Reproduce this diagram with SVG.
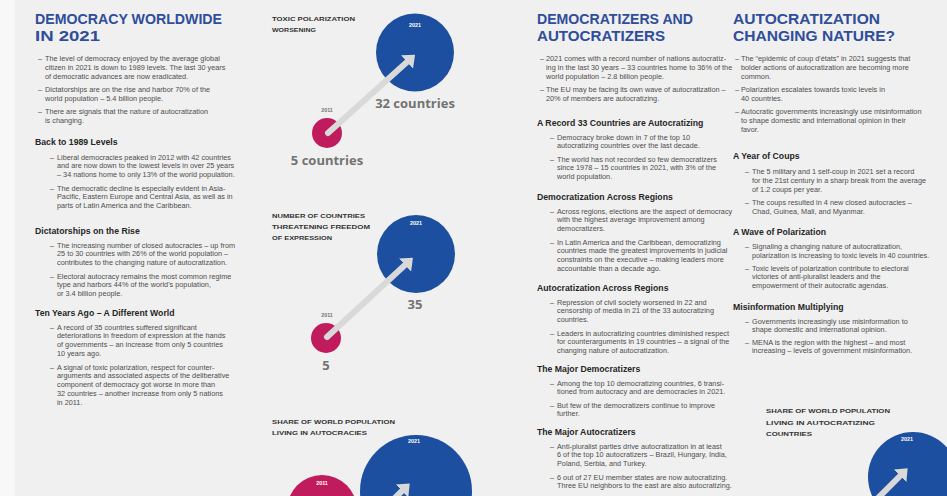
<svg xmlns="http://www.w3.org/2000/svg" width="947" height="496" viewBox="0 0 947 496">
<defs>
<style>
text{font-family:"Liberation Sans","Open Sans",sans-serif}
.title{font-size:15px;font-weight:bold;fill:#2f4d9b}
.b{font-size:7.3px;fill:#4e4e4e}
.h{font-size:8.7px;font-weight:bold;fill:#262626}
.cl{font-size:6px;font-weight:bold;fill:#333}
.yw{font-size:5.4px;font-weight:bold;fill:#fff}
.yg{font-size:5.4px;font-weight:bold;fill:#777}
.big{font-family:"Open Sans","Liberation Sans",sans-serif;font-size:13px;font-weight:bold;fill:#737373}
.blue{fill:#1c4f9f}
.mag{fill:#c01b5c}
.arr{stroke:#d9d9d9;stroke-width:6;fill:none;stroke-linecap:round}
</style>
<marker id="ah" viewBox="0 0 10 10" refX="0" refY="5" markerWidth="3" markerHeight="3" orient="auto" markerUnits="strokeWidth">
<path d="M0,0 L6,5 L0,10 z" fill="#d9d9d9"/>
</marker>
</defs>
<rect width="947" height="496" fill="#f0f0f0"/>
<rect width="15" height="496" fill="#f8f8f8"/>

<g id="democracy-worldwide">
<text class="title" x="35" y="24" textLength="187" lengthAdjust="spacingAndGlyphs">DEMOCRACY WORLDWIDE</text>
<text class="title" x="35" y="41" textLength="65" lengthAdjust="spacingAndGlyphs">IN 2021</text>
<text class="b" x="38" y="61">–</text>
<text class="b" x="45" y="61">The level of democracy enjoyed by the average global</text>
<text class="b" x="45" y="69.8">citizen in 2021 is down to 1989 levels. The last 30 years</text>
<text class="b" x="45" y="78.6">of democratic advances are now eradicated.</text>
<text class="b" x="38" y="92">–</text>
<text class="b" x="45" y="92">Dictatorships are on the rise and harbor 70% of the</text>
<text class="b" x="45" y="100.8">world population – 5.4 billion people.</text>
<text class="b" x="38" y="114">–</text>
<text class="b" x="45" y="114">There are signals that the nature of autocratization</text>
<text class="b" x="45" y="122.8">is changing.</text>
<text class="h" x="35" y="145">Back to 1989 Levels</text>
<text class="b" x="50" y="159.5">–</text>
<text class="b" x="57" y="159.5">Liberal democracies peaked in 2012 with 42 countries</text>
<text class="b" x="57" y="168.3">and are now down to the lowest levels in over 25 years</text>
<text class="b" x="57" y="177.1">– 34 nations home to only 13% of the world population.</text>
<text class="b" x="50" y="190.5">–</text>
<text class="b" x="57" y="190.5">The democratic decline is especially evident in Asia-</text>
<text class="b" x="57" y="199.3">Pacific, Eastern Europe and Central Asia, as well as in</text>
<text class="b" x="57" y="208.1">parts of Latin America and the Caribbean.</text>
<text class="h" x="35" y="234">Dictatorships on the Rise</text>
<text class="b" x="50" y="247.5">–</text>
<text class="b" x="57" y="247.5">The increasing number of closed autocracies – up from</text>
<text class="b" x="57" y="256.3">25 to 30 countries with 26% of the world population –</text>
<text class="b" x="57" y="265.1">contributes to the changing nature of autocratization.</text>
<text class="b" x="50" y="278.5">–</text>
<text class="b" x="57" y="278.5">Electoral autocracy remains the most common regime</text>
<text class="b" x="57" y="287.3">type and harbors 44% of the world's population,</text>
<text class="b" x="57" y="296.1">or 3.4 billion people.</text>
<text class="h" x="35" y="316">Ten Years Ago – A Different World</text>
<text class="b" x="50" y="329.5">–</text>
<text class="b" x="57" y="329.5">A record of 35 countries suffered significant</text>
<text class="b" x="57" y="338.3">deteriorations in freedom of expression at the hands</text>
<text class="b" x="57" y="347.1">of governments – an increase from only 5 countries</text>
<text class="b" x="57" y="355.9">10 years ago.</text>
<text class="b" x="50" y="369.5">–</text>
<text class="b" x="57" y="369.5">A signal of toxic polarization, respect for counter-</text>
<text class="b" x="57" y="378.3">arguments and associated aspects of the deliberative</text>
<text class="b" x="57" y="387.1">component of democracy got worse in more than</text>
<text class="b" x="57" y="395.9">32 countries – another increase from only 5 nations</text>
<text class="b" x="57" y="404.7">in 2011.</text>
</g>

<g id="chart-polarization">
<text class="cl" x="272" y="21" textLength="83" lengthAdjust="spacingAndGlyphs">TOXIC POLARIZATION</text>
<text class="cl" x="272" y="32" textLength="44" lengthAdjust="spacingAndGlyphs">WORSENING</text>
<circle class="blue" cx="415" cy="52.5" r="39"/>
<text class="yw" x="415" y="27" text-anchor="middle">2021</text>
<circle class="mag" cx="327" cy="133" r="15"/>
<text class="yg" x="327" y="112" text-anchor="middle">2011</text>
<text class="big" x="415" y="108" text-anchor="middle">32 countries</text>
<text class="big" x="327" y="165" text-anchor="middle">5 countries</text>
</g>

<g id="chart-expression">
<text class="cl" x="272" y="218" textLength="93" lengthAdjust="spacingAndGlyphs">NUMBER OF COUNTRIES</text>
<text class="cl" x="272" y="229" textLength="98" lengthAdjust="spacingAndGlyphs">THREATENING FREEDOM</text>
<text class="cl" x="272" y="240" textLength="60" lengthAdjust="spacingAndGlyphs">OF EXPRESSION</text>
<circle class="blue" cx="416" cy="254" r="39"/>
<text class="yw" x="416" y="225" text-anchor="middle">2021</text>
<circle class="mag" cx="326" cy="338" r="15"/>
<text class="yg" x="327" y="317" text-anchor="middle">2011</text>
<text class="big" x="415" y="309" text-anchor="middle">35</text>
<text class="big" x="326" y="370" text-anchor="middle">5</text>
</g>

<g id="chart-population">
<text class="cl" x="272" y="424" textLength="123" lengthAdjust="spacingAndGlyphs">SHARE OF WORLD POPULATION</text>
<text class="cl" x="272" y="435" textLength="95" lengthAdjust="spacingAndGlyphs">LIVING IN AUTOCRACIES</text>
<circle class="blue" cx="416" cy="491" r="56"/>
<text class="yw" x="414" y="443" text-anchor="middle">2021</text>
<circle class="mag" cx="322" cy="510" r="35"/>
<text class="yw" x="322" y="485" text-anchor="middle">2011</text>
</g>

<g id="democratizers-autocratizers">
<text class="title" x="537" y="24" textLength="156" lengthAdjust="spacingAndGlyphs">DEMOCRATIZERS AND</text>
<text class="title" x="537" y="41" textLength="128" lengthAdjust="spacingAndGlyphs">AUTOCRATIZERS</text>
<text class="b" x="540" y="61">–</text>
<text class="b" x="546" y="61">2021 comes with a record number of nations autocratiz-</text>
<text class="b" x="546" y="69.8">ing in the last 30 years – 33 countries home to 36% of the</text>
<text class="b" x="546" y="78.6">world population – 2.8 billion people.</text>
<text class="b" x="540" y="92">–</text>
<text class="b" x="546" y="92">The EU may be facing its own wave of autocratization –</text>
<text class="b" x="546" y="100.8">20% of members are autocratizing.</text>
<text class="h" x="537" y="126">A Record 33 Countries are Autocratizing</text>
<text class="b" x="550" y="139.5">–</text>
<text class="b" x="557" y="139.5">Democracy broke down in 7 of the top 10</text>
<text class="b" x="557" y="148.3">autocratizing countries over the last decade.</text>
<text class="b" x="550" y="161.5">–</text>
<text class="b" x="557" y="161.5">The world has not recorded so few democratizers</text>
<text class="b" x="557" y="170.3">since 1978 – 15 countries in 2021, with 3% of the</text>
<text class="b" x="557" y="179.1">world population.</text>
<text class="h" x="537" y="200">Democratization Across Regions</text>
<text class="b" x="550" y="213.5">–</text>
<text class="b" x="557" y="213.5">Across regions, elections are the aspect of democracy</text>
<text class="b" x="557" y="222.3">with the highest average improvement among</text>
<text class="b" x="557" y="231.1">democratizers.</text>
<text class="b" x="550" y="244.5">–</text>
<text class="b" x="557" y="244.5">In Latin America and the Caribbean, democratizing</text>
<text class="b" x="557" y="253.3">countries made the greatest improvements in judicial</text>
<text class="b" x="557" y="262.1">constraints on the executive – making leaders more</text>
<text class="b" x="557" y="270.9">accountable than a decade ago.</text>
<text class="h" x="537" y="291">Autocratization Across Regions</text>
<text class="b" x="550" y="304.5">–</text>
<text class="b" x="557" y="304.5">Repression of civil society worsened in 22 and</text>
<text class="b" x="557" y="313.3">censorship of media in 21 of the 33 autocratizing</text>
<text class="b" x="557" y="322.1">countries.</text>
<text class="b" x="550" y="335.5">–</text>
<text class="b" x="557" y="335.5">Leaders in autocratizing countries diminished respect</text>
<text class="b" x="557" y="344.3">for counterarguments in 19 countries – a signal of the</text>
<text class="b" x="557" y="353.1">changing nature of autocratization.</text>
<text class="h" x="537" y="372">The Major Democratizers</text>
<text class="b" x="550" y="385.5">–</text>
<text class="b" x="557" y="385.5">Among the top 10 democratizing countries, 6 transi-</text>
<text class="b" x="557" y="394.3">tioned from autocracy and are democracies in 2021.</text>
<text class="b" x="550" y="407.5">–</text>
<text class="b" x="557" y="407.5">But few of the democratizers continue to improve</text>
<text class="b" x="557" y="416.3">further.</text>
<text class="h" x="537" y="435">The Major Autocratizers</text>
<text class="b" x="550" y="448.5">–</text>
<text class="b" x="557" y="448.5">Anti-pluralist parties drive autocratization in at least</text>
<text class="b" x="557" y="457.3">6 of the top 10 autocratizers – Brazil, Hungary, India,</text>
<text class="b" x="557" y="466.1">Poland, Serbia, and Turkey.</text>
<text class="b" x="550" y="479.5">–</text>
<text class="b" x="557" y="479.5">6 out of 27 EU member states are now autocratizing.</text>
<text class="b" x="557" y="488.3">Three EU neighbors to the east are also autocratizing.</text>
</g>

<g id="autocratization-changing">
<text class="title" x="733" y="24" textLength="147" lengthAdjust="spacingAndGlyphs">AUTOCRATIZATION</text>
<text class="title" x="733" y="41" textLength="162" lengthAdjust="spacingAndGlyphs">CHANGING NATURE?</text>
<text class="b" x="735" y="61">–</text>
<text class="b" x="741" y="61">The “epidemic of coup d'états” in 2021 suggests that</text>
<text class="b" x="741" y="69.8">bolder actions of autocratization are becoming more</text>
<text class="b" x="741" y="78.6">common.</text>
<text class="b" x="735" y="92">–</text>
<text class="b" x="741" y="92">Polarization escalates towards toxic levels in</text>
<text class="b" x="741" y="100.8">40 countries.</text>
<text class="b" x="735" y="114">–</text>
<text class="b" x="741" y="114">Autocratic governments increasingly use misinformation</text>
<text class="b" x="741" y="122.8">to shape domestic and international opinion in their</text>
<text class="b" x="741" y="131.6">favor.</text>
<text class="h" x="733" y="159">A Year of Coups</text>
<text class="b" x="745" y="174">–</text>
<text class="b" x="752" y="174">The 5 military and 1 self-coup in 2021 set a record</text>
<text class="b" x="752" y="182.8">for the 21st century in a sharp break from the average</text>
<text class="b" x="752" y="191.6">of 1.2 coups per year.</text>
<text class="b" x="745" y="205">–</text>
<text class="b" x="752" y="205">The coups resulted in 4 new closed autocracies –</text>
<text class="b" x="752" y="213.8">Chad, Guinea, Mali, and Myanmar.</text>
<text class="h" x="733" y="235">A Wave of Polarization</text>
<text class="b" x="745" y="249">–</text>
<text class="b" x="752" y="249">Signaling a changing nature of autocratization,</text>
<text class="b" x="752" y="257.8">polarization is increasing to toxic levels in 40 countries.</text>
<text class="b" x="745" y="270.5">–</text>
<text class="b" x="752" y="270.5">Toxic levels of polarization contribute to electoral</text>
<text class="b" x="752" y="279.3">victories of anti-pluralist leaders and the</text>
<text class="b" x="752" y="288.1">empowerment of their autocratic agendas.</text>
<text class="h" x="733" y="310">Misinformation Multiplying</text>
<text class="b" x="745" y="323.5">–</text>
<text class="b" x="752" y="323.5">Governments increasingly use misinformation to</text>
<text class="b" x="752" y="332.3">shape domestic and international opinion.</text>
<text class="b" x="745" y="344.5">–</text>
<text class="b" x="752" y="344.5">MENA is the region with the highest – and most</text>
<text class="b" x="752" y="353.3">increasing – levels of government misinformation.</text>
</g>

<g id="chart-autocratizing">
<text class="cl" x="766" y="413" textLength="124" lengthAdjust="spacingAndGlyphs">SHARE OF WORLD POPULATION</text>
<text class="cl" x="766" y="424.5" textLength="109" lengthAdjust="spacingAndGlyphs">LIVING IN AUTOCRATIZING</text>
<text class="cl" x="766" y="436" textLength="46" lengthAdjust="spacingAndGlyphs">COUNTRIES</text>
<circle class="blue" cx="913" cy="477" r="45"/>
<text class="yw" x="907" y="441" text-anchor="middle">2021</text>
</g>

<g id="connectors">
<line class="arr" x1="328" y1="133" x2="407" y2="62" marker-end="url(#ah)"/>
<line class="arr" x1="327" y1="337" x2="405" y2="265" marker-end="url(#ah)"/>
<line class="arr" x1="352" y1="540" x2="402" y2="491" marker-end="url(#ah)"/>
<line class="arr" x1="860" y1="516" x2="900" y2="476" marker-end="url(#ah)"/>
</g>
</svg>
